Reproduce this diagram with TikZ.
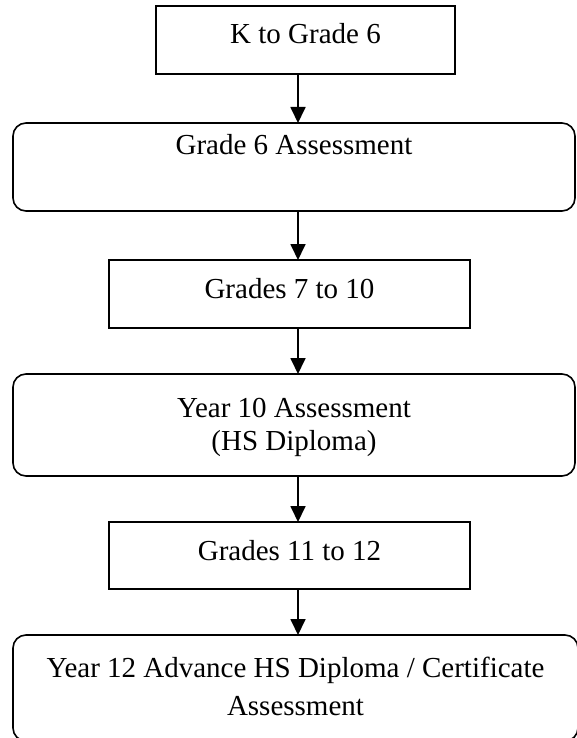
\documentclass[tikz,border=0pt]{standalone}
\usepackage{fontspec}
\setmainfont{Liberation Serif}
\usetikzlibrary{arrows.meta}
\begin{document}
\begin{tikzpicture}[x=1pt,y=-1pt,
  txt/.style={font=\fontsize{29}{33}\selectfont, inner sep=0pt, outer sep=0pt},
  rectbox/.style={txt, draw, line width=1.5pt, rectangle},
  roundbox/.style={txt, draw, line width=1.6pt, rectangle, rounded corners=13pt},
  flowarrow/.style={line width=1.8pt, -{Triangle[width=15pt,length=16pt]}}]
\useasboundingbox (0,0) rectangle (577,738);
\coordinate (ax) at (298,0);
\node[rectbox, minimum width=299pt, minimum height=68pt, text height=20pt, text depth=12pt] (b1) at (305.5,40) {K to Grade 6};
\node[roundbox, minimum width=562pt, minimum height=88pt, text height=20pt, text depth=44pt] (b2) at (294,167) {Grade 6 Assessment};
\node[rectbox, minimum width=361pt, minimum height=68pt, text height=20pt, text depth=12pt] (b3) at (289.5,294) {Grades 7 to 10};
\node[roundbox, minimum width=562pt, minimum height=102pt, text height=20pt, text depth=36pt] (b4) at (294,425) {\begin{tabular}[t]{@{}c@{}}Year 10 Assessment\\(HS Diploma)\end{tabular}};
\node[rectbox, minimum width=361pt, minimum height=67pt, text height=20pt, text depth=11pt] (b5) at (289.5,555.5) {Grades 11 to 12};
\node[roundbox, minimum width=565pt, minimum height=106pt, text height=20pt, text depth=42pt] (b6) at (295.5,688) {\begin{tabular}[t]{@{}c@{}}Year 12 Advance HS Diploma / Certificate\\[5pt]Assessment\end{tabular}};
\draw[flowarrow] (b1.south -| ax) -- (b2.north -| ax);
\draw[flowarrow] (b2.south -| ax) -- (b3.north -| ax);
\draw[flowarrow] (b3.south -| ax) -- (b4.north -| ax);
\draw[flowarrow] (b4.south -| ax) -- (b5.north -| ax);
\draw[flowarrow] (b5.south -| ax) -- (b6.north -| ax);
\end{tikzpicture}
\end{document}
